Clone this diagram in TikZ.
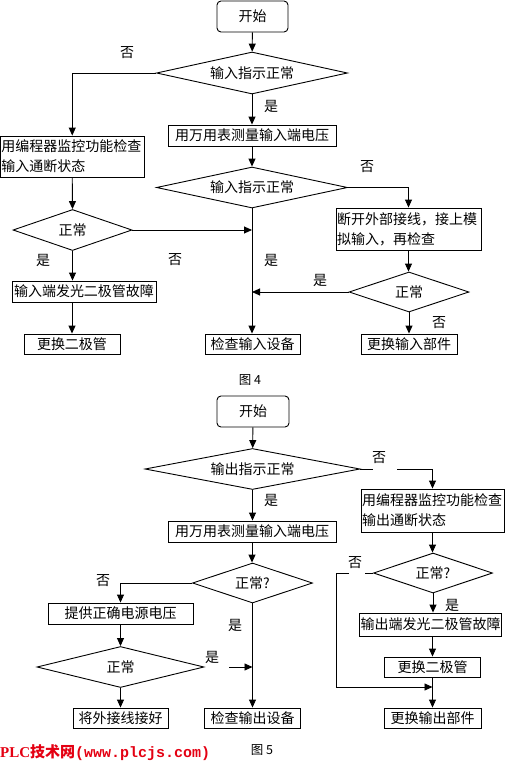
\documentclass[tikz,border=0pt]{standalone}
\usepackage{color}
\usepackage{fontspec}
\usepackage{tikz}
\usetikzlibrary{shapes.geometric,arrows.meta}

\newfontfamily\cjk{Noto Sans CJK SC}
\newfontfamily\wmmono{Liberation Mono}
\newfontfamily\wmserif{Liberation Serif}
\definecolor{wmred}{RGB}{228,0,18}

\tikzset{
	base/.style={font=\cjk\fontsize{14}{20}\selectfont, inner sep=0pt},
	procbox/.style={base, draw, rectangle, line width=0.9pt, inner xsep=1pt},
	startbox/.style={procbox, rounded corners=4pt},
	testbox/.style={base, draw, diamond, shape aspect=5, line width=0.9pt},
	note/.style={base},
	flow/.style={line width=0.9pt, -{Triangle[length=8pt,width=7pt]}},
	wire/.style={line width=0.9pt}
}

\begin{document}
\begin{tikzpicture}[x=1pt, y=-1pt]
		\useasboundingbox (0,0) rectangle (506,761);
		\node[startbox, minimum width=71pt, minimum height=31pt] (start1) at (252.5,16.5) {开始};
		\node[testbox, minimum width=191pt, minimum height=42pt] (d1) at (252,73) {输入指示正常};
		\node[procbox, minimum width=168pt, minimum height=21pt] (meas1) at (252,135.5) {用万用表测量输入端电压};
		\node[procbox, text width=141.5pt, minimum height=41pt, align=left] (mon1) at (72.25,156.5) {用编程器监控功能检查\\输入通断状态};
		\node[testbox, minimum width=191pt, minimum height=41pt] (d2) at (252,187.5) {输入指示正常};
		\node[testbox, minimum width=119pt, minimum height=41pt] (ok1) at (72.5,230) {正常};
		\node[procbox, minimum width=144pt, minimum height=21pt] (led1) at (84,291.5) {输入端发光二极管故障};
		\node[procbox, minimum width=96pt, minimum height=20pt] (rep1) at (72,344) {更换二极管};
		\node[procbox, minimum width=95pt, minimum height=20pt] (chk1) at (252.5,344) {检查输入设备};
		\node[procbox, text width=143pt, minimum height=42pt, align=left] (disc1) at (408.5,229) {断开外部接线，接上模\\拟输入，再检查};
		\node[testbox, minimum width=120pt, minimum height=40pt] (ok2) at (409,292) {正常};
		\node[procbox, minimum width=96pt, minimum height=20pt] (repin) at (409,344) {更换输入部件};
		\node[note, font=\cjk\fontsize{12.5}{14}\selectfont] (cap4) at (250,380) {图 4};

		\draw[flow] (start1) -- (d1);
		\draw[flow] (d1.west) -| (mon1.north);
		\draw[flow] (d1) -- (meas1);
		\draw[flow] (meas1) -- (d2);
		\draw[flow] (mon1.south) -- (ok1.north);
		\draw[flow] (ok1.east) -- (ok1.east -| d2.south);
		\draw[flow] (ok1.south) -- (ok1.south |- led1.north);
		\draw[flow] (rep1.north |- led1.south) -- (rep1.north);
		\draw[flow] (d2.east) -| (disc1.north);
		\draw[flow] (d2.south) -- (d2.south |- chk1.north);
		\draw[flow] (disc1.south) -- (disc1.south |- ok2.north);
		\draw[flow] (ok2.west) -- (ok2.west -| d2.south);
		\draw[flow] (ok2.south) -- (ok2.south |- repin.north);

		\node[startbox, minimum width=72pt, minimum height=31pt] (start2) at (253,411.5) {开始};
		\node[testbox, minimum width=215pt, minimum height=41pt] (d3) at (252.5,469) {输出指示正常};
		\node[procbox, minimum width=168pt, minimum height=21pt] (meas2) at (252,531.5) {用万用表测量输入端电压};
		\node[procbox, text width=141pt, minimum height=43pt, align=left] (mon2) at (432.5,510.5) {用编程器监控功能检查\\输出通断状态};
		\node[testbox, minimum width=119pt, minimum height=40pt] (ok3) at (433,573) {正常?};
		\node[procbox, minimum width=141pt, minimum height=23pt] (led2) at (430.5,624.5) {输出端发光二极管故障};
		\node[procbox, minimum width=96pt, minimum height=20pt] (rep2) at (432.5,667) {更换二极管};
		\node[procbox, minimum width=97pt, minimum height=20pt] (repout) at (432.5,718) {更换输出部件};
		\node[testbox, minimum width=120pt, minimum height=40pt] (ok4) at (252.5,583) {正常?};
		\node[procbox, minimum width=145pt, minimum height=21pt] (pwr) at (120.5,613.5) {提供正确电源电压};
		\node[testbox, minimum width=167pt, minimum height=41pt] (ok5) at (120.5,667) {正常};
		\node[procbox, minimum width=95pt, minimum height=20pt] (fix) at (120.5,718) {将外接线接好};
		\node[procbox, minimum width=96pt, minimum height=20pt] (chk2) at (252.5,718) {检查输出设备};
		\node[note, font=\cjk\fontsize{12.5}{14}\selectfont] (cap5) at (262,750) {图 5};
		\node[note, anchor=west, text=wmred, font=\bfseries\fontsize{15}{17}\selectfont] (wm) at (0,753) {\wmserif PLC\cjk 技术网\wmmono (www.plcjs.com)};

		\coordinate (g1a) at (373,469);
		\coordinate (g1b) at (397,469);
		\coordinate (g2a) at (365,573);
		\coordinate (g2b) at (349,573);
		\coordinate (g2c) at (336,687);
		\coordinate (g3) at (229,667);

		\draw[flow] (start2) -- (d3);
		\draw[wire] (d3.east) -- (g1a);
		\draw[flow] (g1b) -| (mon2.north);
		\draw[flow] (d3.south) -- (d3.south |- meas2.north);
		\draw[flow] (meas2.south) -- (meas2.south |- ok4.north);
		\draw[flow] (mon2.south) -- (mon2.south |- ok3.north);
		\draw[wire] (ok3.west) -- (g2a);
		\draw[flow] (g2b) -| (g2c) -- (repout.north |- g2c);
		\draw[flow] (ok3.south) -- (ok3.south |- led2.north);
		\draw[flow] (rep2.north |- led2.south) -- (rep2.north);
		\draw[flow] (rep2) -- (repout);
		\draw[flow] (ok4.west) -| (pwr.north);
		\draw[flow] (ok4.south) -- (ok4.south |- chk2.north);
		\draw[flow] (pwr) -- (ok5);
		\draw[flow] (g3) -- (g3 -| ok4.south);
		\draw[flow] (ok5) -- (fix);

		\foreach \x/\y/\t [count=\k] in {127/53/否, 271/106/是, 175/260/否, 43/260/是, 367/167/否, 271/260/是, 320/280/是, 439/323/否, 379/458/否, 271/500/是, 355/563/否, 452/605/是, 103/581/否, 235/625/是, 212/657/是}
			\node[note] (lab\k) at (\x,\y) {\t};
	\end{tikzpicture}
\end{document}
